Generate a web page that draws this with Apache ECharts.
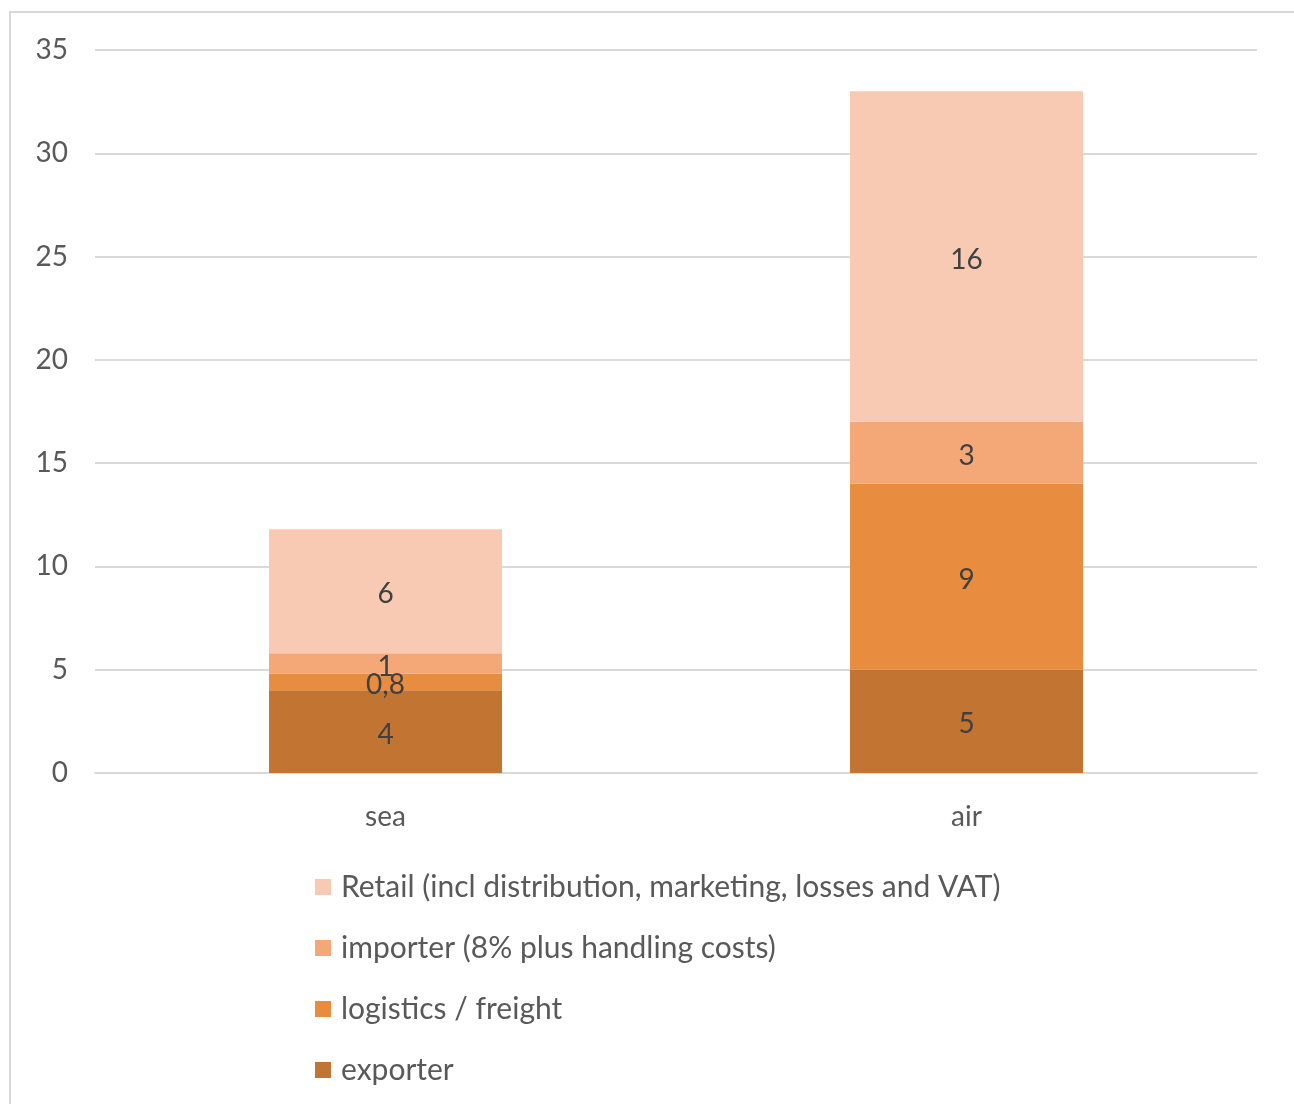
<!DOCTYPE html>
<html>
<head>
<meta charset="utf-8">
<script src="https://cdn.jsdelivr.net/npm/echarts@6/dist/echarts.min.js"></script>
<style>
html,body{margin:0;padding:0;background:#fff;}
#chart{width:1294px;height:1104px;}
</style>
</head>
<body>
<div id="chart"></div>
<script>
const categories = ['sea', 'air'];
const exporter = [4, 5];
const logistics = [0.8, 9];
const importer = [1, 3];
const retail = [6, 16];
const yTicks = [0, 5, 10, 15, 20, 25, 30, 35];

const seriesNames = {
  exporter: 'exporter',
  logistics: 'logistics / freight',
  importer: 'importer (8% plus handling costs)',
  retail: 'Retail (incl distribution, marketing, losses and VAT)'
};
const colors = {
  exporter: '#C27433',
  logistics: '#E88C3F',
  importer: '#F5A877',
  retail: '#F8CAB3'
};

const FONT = 'Lato';
const labelStyle = {
  show: true,
  position: 'inside',
  offset: [0, 3],
  color: '#404040',
  fontFamily: FONT,
  fontSize: 28,
  formatter: p => String(p.value).replace('.', ',')
};

function mk(key, data) {
  return {
    name: seriesNames[key],
    type: 'bar',
    stack: 'total',
    data: data,
    barWidth: 233,
    itemStyle: { color: colors[key] },
    label: labelStyle,
    emphasis: { disabled: true }
  };
}

const chart = echarts.init(document.getElementById('chart'), null, { renderer: 'canvas' });
chart.setOption({
  animation: false,
  backgroundColor: '#fff',
  graphic: [{
    type: 'rect',
    shape: { x: 10, y: 12, width: 1400, height: 1200 },
    style: { fill: 'none', stroke: '#d9d9d9', lineWidth: 2 },
    silent: true,
    z: -10
  }],
  grid: { left: 95, right: 37, top: 50, bottom: 331, containLabel: false },
  xAxis: {
    type: 'category',
    data: categories,
    axisLine: { show: true, lineStyle: { color: '#d9d9d9', width: 2 } },
    axisTick: { show: false },
    axisLabel: { color: '#595959', fontFamily: FONT, fontSize: 28, margin: 30 }
  },
  yAxis: {
    type: 'value',
    min: yTicks[0],
    max: yTicks[yTicks.length - 1],
    interval: 5,
    axisLine: { show: false },
    axisTick: { show: false },
    splitLine: { lineStyle: { color: '#d9d9d9', width: 2 } },
    axisLabel: { color: '#595959', fontFamily: FONT, fontSize: 28, margin: 27 }
  },
  legend: {
    orient: 'vertical',
    left: 315,
    top: 871,
    padding: 0,
    itemWidth: 16,
    itemHeight: 16,
    itemGap: 29,
    icon: 'rect',
    textStyle: { color: '#595959', fontFamily: FONT, fontSize: 30, lineHeight: 32, padding: [0, 0, 0, 5] },
    data: [seriesNames.retail, seriesNames.importer, seriesNames.logistics, seriesNames.exporter]
  },
  series: [
    mk('exporter', exporter),
    mk('logistics', logistics),
    mk('importer', importer),
    mk('retail', retail)
  ]
});
</script>
</body>
</html>
